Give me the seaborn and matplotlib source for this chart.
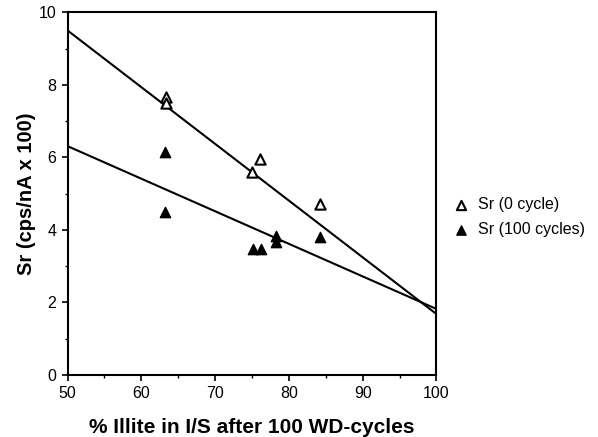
import matplotlib
matplotlib.use("Agg")
import matplotlib.pyplot as plt
import seaborn as sns
import pandas as pd
from matplotlib.ticker import MultipleLocator

# data
x_0cycle = [63.3, 63.3, 75.0, 76.1, 84.2]
y_0cycle = [7.66, 7.51, 5.61, 5.96, 4.71]
x_100cycles = [63.2, 63.2, 75.1, 76.2, 78.2, 78.2, 84.2]
y_100cycles = [6.16, 4.49, 3.47, 3.47, 3.84, 3.66, 3.80]
fit_x = [50, 100]
fit_0cycle = [9.5, 1.68]
fit_100cycles = [6.31, 1.82]
labels = ["Sr (0 cycle)", "Sr (100 cycles)"]

sns.set_theme(style="ticks")
plt.rcParams['font.family'] = ['Liberation Sans', 'DejaVu Sans']
plt.rcParams['text.color'] = 'black'
plt.rcParams['axes.labelcolor'] = 'black'

fig = plt.figure(figsize=(5.98, 4.37), dpi=100)
ax = fig.add_axes([0.1129, 0.1419, 0.617, 0.830])

sns.lineplot(x=fit_x, y=fit_0cycle, ax=ax, color="black", lw=1.5, legend=False, errorbar=None)
sns.lineplot(x=fit_x, y=fit_100cycles, ax=ax, color="black", lw=1.5, legend=False, errorbar=None)

sns.scatterplot(x=x_0cycle, y=y_0cycle, ax=ax, marker="^", s=55,
                facecolor="white", edgecolor="black", linewidth=1.5,
                zorder=3, legend=False)
h0 = ax.collections[-1]
sns.scatterplot(x=x_100cycles, y=y_100cycles, ax=ax, marker="^", s=55,
                color="black", edgecolor="black", linewidth=1.0,
                zorder=3, legend=False)
h1 = ax.collections[-1]

ax.set_xlim(50, 100)
ax.set_ylim(0, 10)
ax.xaxis.set_major_locator(MultipleLocator(10))
ax.xaxis.set_minor_locator(MultipleLocator(5))
ax.yaxis.set_major_locator(MultipleLocator(2))
ax.yaxis.set_minor_locator(MultipleLocator(1))
ax.tick_params(which="major", direction="out", length=4, width=1.2, labelsize=11.5,
               colors="black", labelcolor="black", pad=4)
ax.tick_params(which="minor", direction="out", length=2.5, width=1.0, colors="black")
for s in ax.spines.values():
    s.set_linewidth(1.5)
    s.set_color("black")

ax.set_xlabel("% Illite in I/S after 100 WD-cycles", fontsize=15, fontweight="bold",
              labelpad=12, color="black")
ax.set_ylabel("Sr (cps/nA x 100)", fontsize=14.5, fontweight="bold", labelpad=2, color="black")

leg = fig.legend([h0, h1], labels, loc="center left", bbox_to_anchor=(0.733, 0.503),
                 frameon=False, fontsize=11.5, handlelength=1.0, handletextpad=0.6,
                 markerscale=0.9, labelspacing=0.6)
for t in leg.get_texts():
    t.set_color("black")

fig.savefig("out.png", dpi=100)
